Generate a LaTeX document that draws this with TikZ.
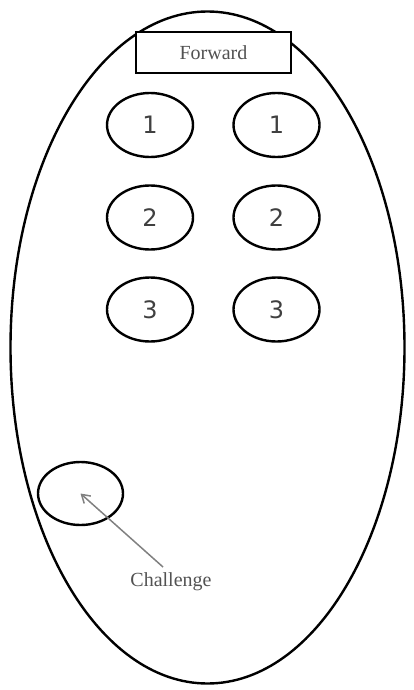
\documentclass[tikz,border=0pt]{standalone}
\usepackage{fontspec}
\setmainfont{Liberation Serif}
\newfontfamily\digitfont{DejaVu Sans}
\usetikzlibrary{shapes.geometric,arrows.meta}
\begin{document}
\begin{tikzpicture}[x=1pt,y=-1pt,
  outline/.style={draw=black,line width=2.4pt},
  key/.style={outline,ellipse,minimum width=86pt,minimum height=64pt,inner sep=0pt,
    font=\digitfont\fontsize{24}{28}\selectfont,text=black!75},
  txt/.style={font=\fontsize{20}{24}\selectfont,text=black!68},
  pointer/.style={draw=black!50,line width=1.5pt,-{Straight Barb[length=8pt,width=10pt]}}]
\useasboundingbox (0,0) rectangle (414,690);
\node[outline,ellipse,minimum width=394pt,minimum height=672pt,inner sep=0pt] (body) at (207.5,347.5) {};
\node[outline,fill=white,rectangle,minimum width=155pt,minimum height=41pt,inner sep=0pt,txt] (fwd) at (213.5,52.5) {Forward};
\node[key] (l1) at (150,125) {1};
\node[key] (r1) at (276.5,125) {1};
\node[key] (l2) at (150,217.5) {2};
\node[key] (r2) at (276.5,217.5) {2};
\node[key] (l3) at (150,309.5) {3};
\node[key] (r3) at (276.5,309.5) {3};
\node[outline,ellipse,minimum width=85pt,minimum height=63pt,inner sep=0pt] (chal) at (80.5,493.5) {};
\node[txt,inner sep=0pt] (chtext) at (171,582) {Challenge};
\coordinate (start) at (163,567);
\draw[pointer] (start) -- (chal.center);
\end{tikzpicture}
\end{document}
